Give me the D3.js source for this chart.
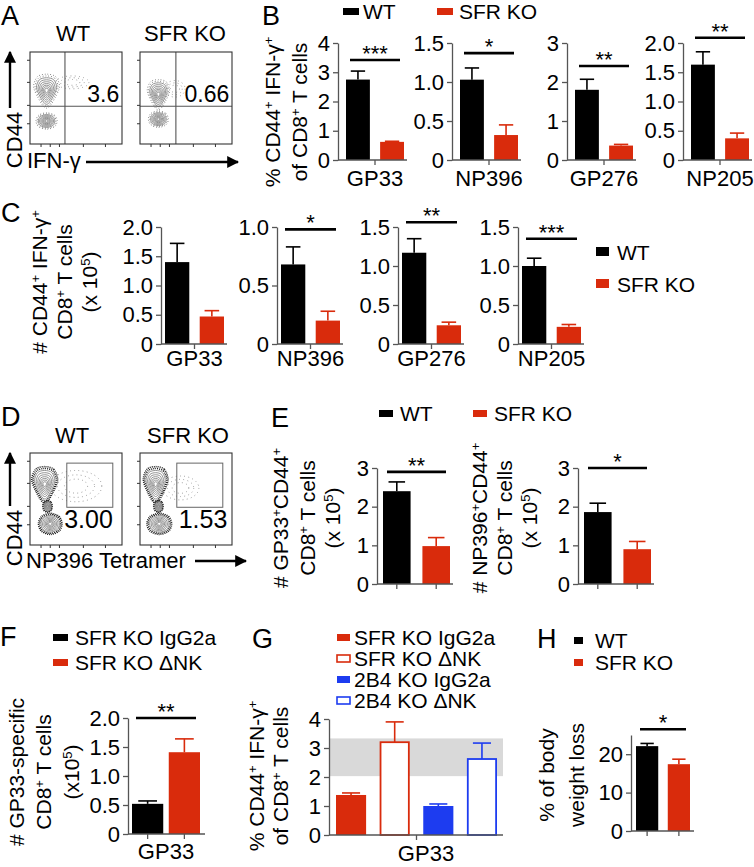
<!DOCTYPE html>
<html>
<head>
<meta charset="utf-8">
<script src="https://cdn.jsdelivr.net/npm/d3@7"></script>
<style>
  body { margin: 0; background: #fff; }
  svg { font-family: "Liberation Sans", Arial, sans-serif; }
</style>
</head>
<body>
<svg id="fig" width="754" height="867"></svg>
<script>
// ---------- data ----------
const groups = ["WT", "SFR KO"];

// A: % CD44+ IFN-g+ gate values
const flowATitles = ["WT", "SFR KO"];
const flowAValues = ["3.6", "0.66"];

// B: % CD44+ IFN-g+ of CD8+ T cells
const bEpitopes = ["GP33", "NP396", "GP276", "NP205"];
const bWT = [2.75, 1.03, 1.80, 1.63];
const bWTErr = [3.04, 1.18, 2.07, 1.85];
const bKO = [0.62, 0.32, 0.37, 0.37];
const bKOErr = [0.64, 0.45, 0.40, 0.46];
const bMax = [4, 1.5, 3, 2];
const bTicks = [[0, 1, 2, 3, 4], [0, 0.5, 1, 1.5], [0, 1, 2, 3], [0, 0.5, 1, 1.5, 2]];
const bStars = ["***", "*", "**", "**"];
const bSigAt = [3.42, 1.37, 2.41, 2.09];

// C: # CD44+ IFN-g+ CD8+ T cells (x 10^5)
const cWT = [1.40, 0.68, 1.17, 1.00];
const cWTErr = [1.72, 0.83, 1.35, 1.10];
const cKO = [0.47, 0.20, 0.24, 0.22];
const cKOErr = [0.57, 0.28, 0.28, 0.25];
const cMax = [2, 1, 1.5, 1.5];
const cTicks = [[0, 0.5, 1, 1.5, 2], [0, 0.5, 1], [0, 0.5, 1, 1.5], [0, 0.5, 1, 1.5]];
const cStars = ["", "*", "**", "***"];
const cSigAt = [0, 0.98, 1.56, 1.35];

// D: NP396 tetramer gates
const flowDTitles = ["WT", "SFR KO"];
const flowDValues = ["3.00", "1.53"];

// E: # tetramer+ CD44+ CD8+ T cells (x 10^5)
const eWT = [2.40, 1.86];
const eWTErr = [2.64, 2.09];
const eKO = [0.98, 0.90];
const eKOErr = [1.20, 1.10];
const eTicks = [0, 1, 2, 3];
const eStars = ["**", "*"];
const eSigAt = [2.9, 3.0];

// F: # GP33-specific CD8+ T cells
const fGroups = ["SFR KO IgG2a", "SFR KO \u0394NK"];
const fVals = [0.52, 1.41];
const fErr = [0.57, 1.64];
const fTicks = [0, 0.5, 1, 1.5, 2];

// G: % CD44+ IFN-g+ of CD8+ T cells, GP33
const gGroups = ["SFR KO IgG2a", "SFR KO \u0394NK", "2B4 KO IgG2a", "2B4 KO \u0394NK"];
const gVals = [1.38, 3.2, 1.0, 2.62];
const gErr = [1.45, 3.9, 1.07, 3.17];
const gBand = [2.03, 3.33];
const gTicks = [0, 1, 2, 3, 4];

// H: % of body weight loss
const hVals = [22.1, 17.4];
const hErr = [22.8, 18.7];
const hTicks = [0, 10, 20];

// ---------- styles ----------
const RED = "#d92b0c", BLUE = "#1d3cf0", BLACK = "#000", AXIS = "#555";
const FS = 22;
const fmtDec = d => d === 0 ? "0" : d3.format(".1f")(d);
const fmtInt = d3.format("d");

const svg = d3.select("#fig");

function rich(t, parts) {
  parts.forEach(p => {
    const sup = p.startsWith("^");
    const s = t.append("tspan").text(sup ? p.slice(1) : p);
    if (sup) s.attr("baseline-shift", "super").attr("font-size", "0.62em");
  });
  return t;
}

function vTitle(lines, cy, size) {
  lines.forEach(l => {
    const t = svg.append("text")
      .attr("transform", `translate(${l[0]},${cy}) rotate(-90)`)
      .attr("text-anchor", "middle").attr("font-size", size || 21);
    rich(t, l[1]);
  });
}

function letter(ch, x, y) {
  svg.append("text").attr("x", x).attr("y", y).attr("font-size", 27).text(ch);
}

function legend(x, y, dy, items, box) {
  items.forEach((it, i) => {
    svg.append("rect").attr("x", x).attr("y", y + i * dy - box[1] - 4)
      .attr("width", box[0]).attr("height", box[1])
      .attr("fill", it.open ? "#fff" : it.color)
      .attr("stroke", it.open ? it.color : "none").attr("stroke-width", 1.6);
    svg.append("text").attr("x", x + box[0] + box[2]).attr("y", y + i * dy)
      .attr("font-size", 21).text(it.label);
  });
}

function barChart(o) {
  const g = svg.append("g");
  const y = d3.scaleLinear().domain([0, o.max]).range([o.y0, o.yTop]);
  const x = d3.scaleBand().domain(o.cats).range(o.band).paddingInner(o.pad || 0.3);
  const bw = x.bandwidth();
  const axEnd = o.band[1] + (o.ext || 3);

  if (o.shade) {
    g.append("rect").attr("x", o.ax).attr("width", axEnd - o.ax)
      .attr("y", y(o.shade[1])).attr("height", y(o.shade[0]) - y(o.shade[1]))
      .attr("fill", "#d9d9d9");
  }

  o.cats.forEach((c, i) => {
    const col = o.colors[i];
    const open = o.open && o.open[i];
    const cx = x(c) + bw / 2;
    g.append("line").attr("x1", cx).attr("x2", cx)
      .attr("y1", y(o.values[i])).attr("y2", y(o.errs[i]))
      .attr("stroke", col).attr("stroke-width", 1.6);
    g.append("line").attr("x1", cx - bw * 0.3).attr("x2", cx + bw * 0.3)
      .attr("y1", y(o.errs[i])).attr("y2", y(o.errs[i]))
      .attr("stroke", col).attr("stroke-width", 1.6);
    if (open) {
      g.append("rect").attr("x", x(c) + 0.9).attr("y", y(o.values[i]))
        .attr("width", bw - 1.8).attr("height", o.y0 - y(o.values[i]))
        .attr("fill", "#fff").attr("stroke", col).attr("stroke-width", 1.8);
    } else {
      g.append("rect").attr("x", x(c)).attr("y", y(o.values[i]))
        .attr("width", bw).attr("height", o.y0 - y(o.values[i]))
        .attr("fill", col);
    }
  });

  const ya = g.append("g").attr("transform", `translate(${o.ax},0)`)
    .call(d3.axisLeft(y).tickValues(o.ticks).tickFormat(o.fmt)
      .tickSize(5).tickSizeOuter(0).tickPadding(3));
  ya.attr("font-family", null).attr("font-size", FS);
  ya.select(".domain").attr("stroke", AXIS).attr("stroke-width", 1.3);
  ya.selectAll(".tick line").attr("stroke", AXIS).attr("stroke-width", 1.3);
  ya.selectAll(".tick text").attr("fill", "#000");

  g.append("line").attr("x1", o.ax).attr("x2", axEnd).attr("y1", o.y0).attr("y2", o.y0)
    .attr("stroke", AXIS).attr("stroke-width", 1.3);
  const tickXs = o.xTicks === "each"
    ? o.cats.map(c => x(c) + bw / 2)
    : [(o.band[0] + o.band[1]) / 2];
  tickXs.forEach(tx => g.append("line").attr("x1", tx).attr("x2", tx)
    .attr("y1", o.y0).attr("y2", o.y0 + 5).attr("stroke", AXIS).attr("stroke-width", 1.3));

  if (o.stars) {
    const sy = y(o.sigAt);
    const x1 = x(o.cats[0]) + 4, x2 = x(o.cats[o.cats.length - 1]) + bw - 4;
    g.append("line").attr("x1", x1).attr("x2", x2).attr("y1", sy).attr("y2", sy)
      .attr("stroke", "#000").attr("stroke-width", 2.6);
    g.append("text").attr("x", (x1 + x2) / 2).attr("y", sy + 1)
      .attr("text-anchor", "middle").attr("font-size", FS).text(o.stars);
  }
  if (o.label) {
    g.append("text").attr("x", o.labelX || (o.band[0] + o.band[1]) / 2).attr("y", o.labelY)
      .attr("text-anchor", "middle").attr("font-size", FS).text(o.label);
  }
}

// ---------- flow cytometry plots ----------
const shapes = {
  drop: [[0, -1], [0.7, -0.85], [1, -0.25], [0.65, 0.45], [0.18, 1], [-0.18, 1], [-0.65, 0.45], [-1, -0.25], [-0.7, -0.85]],
  blob: [[0, -1], [0.75, -0.7], [1, 0], [0.75, 0.7], [0, 1], [-0.75, 0.7], [-1, 0], [-0.75, -0.7]]
};
const innerRings = [1, 0.84, 0.69, 0.55, 0.42, 0.3, 0.18];
const outerRings = [1.28, 1.14];
const cloudRings = [1, 0.72, 0.45];

function flowPlot(o) {
  const size = 92;
  const g = svg.append("g").attr("transform", `translate(${o.x},${o.y})`);
  const s = d3.scaleLinear().domain([0, 100]).range([0, size]);
  const line = d3.line().curve(d3.curveCardinalClosed.tension(0.1));
  const ring = (p, k) => line(shapes[p.shape].map(([u, v]) => [s(p.cx + u * p.rx * k), s(p.cy + v * p.ry * k)]));

  o.clouds.forEach(c => cloudRings.forEach(k => {
    g.append("ellipse").attr("cx", s(c.cx)).attr("cy", s(c.cy))
      .attr("rx", s(c.rx * k)).attr("ry", s(c.ry * k))
      .attr("fill", "none").attr("stroke", "#888").attr("stroke-width", 1)
      .attr("stroke-dasharray", "0.8,3.4");
  }));
  o.pops.forEach(p => {
    outerRings.forEach(k => g.append("path").attr("d", ring(p, k)).attr("fill", "none")
      .attr("stroke", o.dense ? "#222" : "#777").attr("stroke-width", o.dense ? 1.5 : 1)
      .attr("stroke-dasharray", o.dense ? "1,1" : "0.8,2"));
    innerRings.forEach(k => g.append("path").attr("d", ring(p, k)).attr("fill", "none")
      .attr("stroke", "#808080").attr("stroke-width", 0.85));
  });

  if (o.quad) {
    g.append("line").attr("x1", s(o.quad[0])).attr("x2", s(o.quad[0])).attr("y1", 0).attr("y2", size)
      .attr("stroke", "#555").attr("stroke-width", 1.1);
    g.append("line").attr("x1", 0).attr("x2", size).attr("y1", s(o.quad[1])).attr("y2", s(o.quad[1]))
      .attr("stroke", "#555").attr("stroke-width", 1.1);
  }
  if (o.gate) {
    g.append("rect").attr("x", s(o.gate[0])).attr("y", s(o.gate[1]))
      .attr("width", s(o.gate[2] - o.gate[0])).attr("height", s(o.gate[3] - o.gate[1]))
      .attr("fill", "none").attr("stroke", "#666").attr("stroke-width", 1);
  }
  g.append("rect").attr("width", size).attr("height", size)
    .attr("fill", "none").attr("stroke", "#333").attr("stroke-width", 1.1);
  const ticksLeft = [9, 33, 58, 78];
  const ticksBottom = [12, 22, 32, 58, 82];
  ticksLeft.forEach(t => g.append("line").attr("x1", -3).attr("x2", 0).attr("y1", s(t)).attr("y2", s(t)).attr("stroke", "#333"));
  ticksBottom.forEach(t => g.append("line").attr("x1", s(t)).attr("x2", s(t)).attr("y1", size).attr("y2", size + 3).attr("stroke", "#333"));

  g.append("text").attr("x", s(o.labelPos[0])).attr("y", s(o.labelPos[1]))
    .attr("text-anchor", "end").attr("font-size", o.labelSize).text(o.value);
  svg.append("text").attr("x", o.x + o.titleDx).attr("y", o.titleY)
    .attr("text-anchor", "middle").attr("font-size", 22).text(o.title);
}

// arrow marker
svg.append("defs").append("marker").attr("id", "arr")
  .attr("viewBox", "0 0 10 10").attr("refX", 9).attr("refY", 5)
  .attr("markerWidth", 5).attr("markerHeight", 5).attr("orient", "auto")
  .append("path").attr("d", "M0,0 L10,5 L0,10 z").attr("fill", "#000");

function arrow(x1, y1, x2, y2) {
  svg.append("line").attr("x1", x1).attr("y1", y1).attr("x2", x2).attr("y2", y2)
    .attr("stroke", "#000").attr("stroke-width", 2.4).attr("marker-end", "url(#arr)");
}

// ---------- Panel A ----------
letter("A", 1, 25);
const flowAPops = [
  { pops: [{ shape: "drop", cx: 18, cy: 42, rx: 11, ry: 14 }, { shape: "blob", cx: 18, cy: 75, rx: 9, ry: 7 }],
    clouds: [{ cx: 46, cy: 33, rx: 18, ry: 7 }] },
  { pops: [{ shape: "drop", cx: 20, cy: 46, rx: 9.5, ry: 12.5 }, { shape: "blob", cx: 20, cy: 73, rx: 8.5, ry: 7 }],
    clouds: [{ cx: 38, cy: 40, rx: 11, ry: 9 }] }
];
[30, 140].forEach((bx, i) => flowPlot({
  x: bx, y: 52, title: flowATitles[i], titleDx: i ? 45 : 43, titleY: 41,
  pops: flowAPops[i].pops, clouds: flowAPops[i].clouds,
  quad: [i ? 39 : 38, 59], value: flowAValues[i], labelPos: [97, 54], labelSize: 23
}));
arrow(10, 108, 10, 52);
svg.append("text").attr("transform", "translate(22,140) rotate(-90)").attr("text-anchor", "middle")
  .attr("font-size", 22).text("CD44");
svg.append("text").attr("x", 27).attr("y", 168).attr("font-size", 22).text("IFN-\u03b3");
arrow(86, 162, 238, 162);

// ---------- Panel B ----------
letter("B", 262, 25);
legend(343, 19, 0, [{ color: BLACK, label: "WT" }], [16, 7, 4]);
legend(437, 19, 0, [{ color: RED, label: "SFR KO" }], [16, 7, 6]);
vTitle([[280, ["% CD44", "^+", " IFN-\u03b3", "^+"]], [307, ["of CD8", "^+", " T cells"]]], 112, 21);
[338, 452, 567, 683].forEach((ax, i) => barChart({
  ax, y0: 160, yTop: 43, max: bMax[i], ticks: bTicks[i],
  fmt: bMax[i] % 1 === 0 && i !== 3 ? fmtInt : fmtDec,
  cats: groups, values: [bWT[i], bKO[i]], errs: [bWTErr[i], bKOErr[i]], colors: [BLACK, RED],
  band: [ax + 8, ax + 66], stars: bStars[i], sigAt: bSigAt[i],
  label: bEpitopes[i], labelY: 186
}));

// ---------- Panel C ----------
letter("C", 1, 222);
vTitle([[47, ["# CD44", "^+", " IFN-\u03b3", "^+"]], [72, ["CD8", "^+", " T cells"]], [97, ["(x 10", "^5", ")"]]], 282, 21);
[161, 277, 398, 518].forEach((ax, i) => barChart({
  ax, y0: 344, yTop: 227, max: cMax[i], ticks: cTicks[i], fmt: fmtDec,
  cats: groups, values: [cWT[i], cKO[i]], errs: [cWTErr[i], cKOErr[i]], colors: [BLACK, RED],
  band: [ax + 4, ax + 63], stars: cStars[i], sigAt: cSigAt[i],
  label: bEpitopes[i], labelY: 366
}));
legend(596, 260, 32, [{ color: BLACK, label: "WT" }, { color: RED, label: "SFR KO" }], [13, 9, 8]);

// ---------- Panel D ----------
letter("D", 1, 426);
const flowDPops = [
  { pops: [{ shape: "drop", cx: 16, cy: 34, rx: 11, ry: 15 }, { shape: "blob", cx: 19, cy: 58, rx: 4, ry: 5 },
           { shape: "blob", cx: 22, cy: 77, rx: 10, ry: 9 }],
    clouds: [{ cx: 50, cy: 36, rx: 28, ry: 17 }] },
  { pops: [{ shape: "drop", cx: 17, cy: 34, rx: 10.5, ry: 15 }, { shape: "blob", cx: 20, cy: 58, rx: 4, ry: 5 },
           { shape: "blob", cx: 21, cy: 77, rx: 10.5, ry: 9 }],
    clouds: [{ cx: 44, cy: 38, rx: 20, ry: 13 }] }
];
[30, 140].forEach((bx, i) => flowPlot({
  x: bx, y: 453, title: flowDTitles[i], titleDx: i ? 48 : 42, titleY: 443, dense: true,
  pops: flowDPops[i].pops, clouds: flowDPops[i].clouds,
  gate: [40, 11, 90, 59], value: flowDValues[i], labelPos: [i ? 95 : 90, 81], labelSize: 25
}));
arrow(10, 506, 10, 453);
svg.append("text").attr("transform", "translate(22,538) rotate(-90)").attr("text-anchor", "middle")
  .attr("font-size", 22).text("CD44");
svg.append("text").attr("x", 26).attr("y", 568).attr("font-size", 22).text("NP396 Tetramer");
arrow(195, 561, 246, 561);

// ---------- Panel E ----------
letter("E", 271, 427);
legend(379, 421, 0, [{ color: BLACK, label: "WT" }], [14, 7, 7]);
legend(473, 421, 0, [{ color: RED, label: "SFR KO" }], [14, 7, 7]);
vTitle([[288, ["# GP33", "^+", "CD44", "^+"]], [315, ["CD8", "^+", " T cells"]], [340, ["(x 10", "^5", ")"]]], 518, 21);
vTitle([[487, ["# NP396", "^+", "CD44", "^+"]], [512, ["CD8", "^+", " T cells"]], [537, ["(x 10", "^5", ")"]]], 518, 21);
[377, 578].forEach((ax, i) => barChart({
  ax, y0: 584, yTop: 468, max: 3, ticks: eTicks, fmt: fmtInt,
  cats: groups, values: [eWT[i], eKO[i]], errs: [eWTErr[i], eKOErr[i]], colors: [BLACK, RED],
  band: [ax + 6, ax + 73], xTicks: "each", stars: eStars[i], sigAt: eSigAt[i]
}));

// ---------- Panel F ----------
letter("F", 0, 646);
legend(53, 645, 25, [{ color: BLACK, label: fGroups[0] }, { color: RED, label: fGroups[1] }], [15, 7, 7]);
vTitle([[24, ["# GP33-specific"]], [51, ["CD8", "^+", " T cells"]], [79, ["(x10", "^5", ")"]]], 772, 21);
barChart({
  ax: 128, y0: 834, yTop: 718, max: 2, ticks: fTicks, fmt: fmtDec,
  cats: fGroups, values: fVals, errs: fErr, colors: [BLACK, RED],
  band: [132, 200], pad: 0.15, ext: 5, xTicks: "each", stars: "**", sigAt: 2.0,
  label: "GP33", labelY: 859
});

// ---------- Panel G ----------
letter("G", 252, 648);
legend(337, 645, 21, [
  { color: RED, label: gGroups[0] }, { color: RED, open: true, label: gGroups[1] },
  { color: BLUE, label: gGroups[2] }, { color: BLUE, open: true, label: gGroups[3] }
], [13, 7, 4]);
vTitle([[264, ["% CD44", "^+", " IFN-\u03b3", "^+"]], [288, ["of CD8", "^+", " T cells"]]], 776, 21);
barChart({
  ax: 329, y0: 835, yTop: 719, max: 4, ticks: gTicks, fmt: fmtInt,
  cats: gGroups, values: gVals, errs: gErr, colors: [RED, RED, BLUE, BLUE], open: [false, true, false, true],
  band: [336, 497], pad: 0.31, ext: 6, shade: gBand,
  label: "GP33", labelX: 426, labelY: 861
});

// ---------- Panel H ----------
letter("H", 537, 648);
legend(574, 648, 22, [{ color: BLACK, label: "WT" }, { color: RED, label: "SFR KO" }], [9, 7, 12]);
vTitle([[554, ["% of body"]], [584, ["weight loss"]]], 775, 21);
barChart({
  ax: 631, y0: 831, yTop: 735, max: 25, ticks: hTicks, fmt: fmtInt,
  cats: groups, values: hVals, errs: hErr, colors: [BLACK, RED],
  band: [636, 690], pad: 0.3, ext: 4, xTicks: "each", stars: "*", sigAt: 26.5
});
</script>
</body>
</html>
